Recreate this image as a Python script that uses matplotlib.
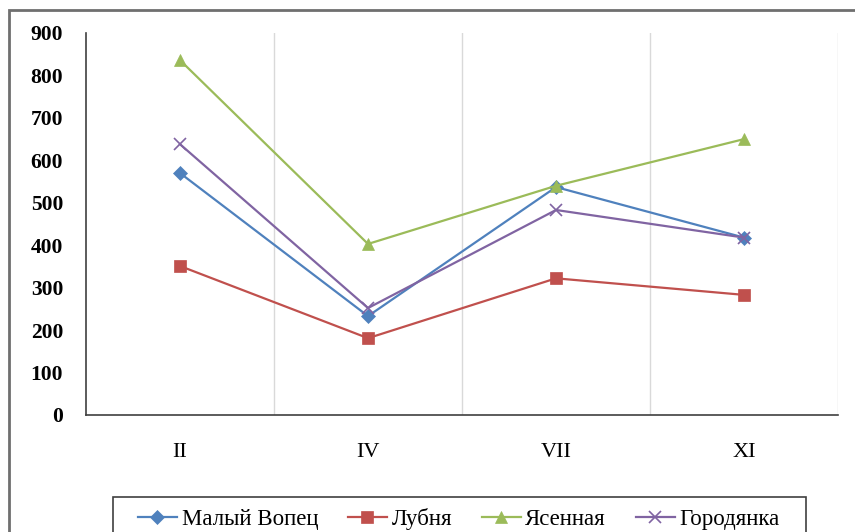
import matplotlib.pyplot as plt
from matplotlib.patches import Rectangle

months = ["II", "IV", "VII", "XI"]
maly_vopets = [570, 233, 537, 418]
lubnya = [351, 181, 322, 283]
yasennaya = [836, 403, 540, 650]
gorodyanka = [638, 252, 483, 418]

series = [
    ("Малый Вопец", maly_vopets, "#4F81BD", "D", 7),
    ("Лубня", lubnya, "#C0504D", "s", 8),
    ("Ясенная", yasennaya, "#9BBB59", "^", 8),
    ("Городянка", gorodyanka, "#8064A2", "x", 9),
]

plt.rcParams["font.family"] = ["Liberation Serif", "DejaVu Serif"]

W, H = 855, 532
fig = plt.figure(figsize=(W / 100, H / 100), dpi=100)
ax = fig.add_axes([86 / W, 117 / H, 752 / W, 382 / H])

# outer chart border (runs off the right and bottom edges)
fig.patches.append(Rectangle((9 / W, -0.1), 1.0, (522 / H) + 0.1,
                             transform=fig.transFigure, fill=False,
                             edgecolor="#6f6f6f", linewidth=2, clip_on=False))

x = list(range(len(months)))
for name, vals, color, marker, ms in series:
    ax.plot(x, vals, color=color, linewidth=1.6, marker=marker, markersize=ms,
            markeredgewidth=1.2 if marker == "x" else 0.5,
            markeredgecolor=color, label=name)

ax.set_xlim(-0.5, len(months) - 0.5)
ax.set_ylim(0, 900)
ax.set_yticks(range(0, 901, 100))
ax.set_yticklabels([str(v) for v in range(0, 901, 100)], fontweight="bold")
ax.set_xticks(x)
ax.set_xticklabels(months)
ax.set_xticks([i + 0.5 for i in x], minor=True)
ax.grid(True, which="minor", axis="x", color="#d9d9d9", linewidth=1)
ax.tick_params(axis="y", length=0, pad=16.5, labelsize=15.5)
ax.tick_params(axis="x", which="both", length=0, pad=20, labelsize=16)

for side in ("top", "right"):
    ax.spines[side].set_visible(False)
for side in ("left", "bottom"):
    ax.spines[side].set_color("#404040")
    ax.spines[side].set_linewidth(1.2)

# legend box drawn separately so it can run past the bottom edge
fig.patches.append(Rectangle((113 / W, -0.1), 693 / W, (35 / H) + 0.1,
                             transform=fig.transFigure, fill=False,
                             edgecolor="#404040", linewidth=1.2, clip_on=False))
fig.legend(loc="center left", bbox_to_anchor=(138 / W, 13 / H),
           ncol=4, frameon=False, fontsize=16.5, borderpad=0, borderaxespad=0,
           handlelength=1.7, handletextpad=0.2, columnspacing=1.3)

fig.savefig("out.png", dpi=100)
